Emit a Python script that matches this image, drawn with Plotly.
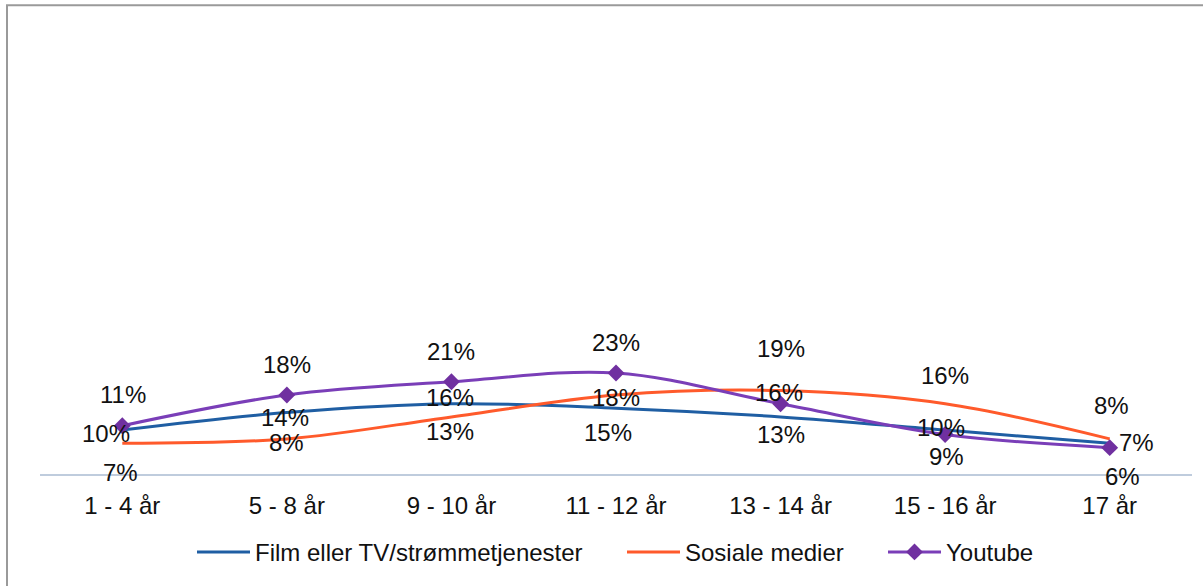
import plotly.graph_objects as go

categories = ["1 - 4 år", "5 - 8 år", "9 - 10 år", "11 - 12 år", "13 - 14 år", "15 - 16 år", "17 år"]
film = [0.10, 0.14, 0.16, 0.15, 0.13, 0.10, 0.07]
sosiale = [0.07, 0.08, 0.13, 0.18, 0.19, 0.16, 0.08]
youtube = [0.11, 0.18, 0.21, 0.23, 0.16, 0.09, 0.06]

series_names = ["Film eller TV/strømmetjenester", "Sosiale medier", "Youtube"]

# label offsets in pixels (dx right, dy down) - layout only
film_off = [(-16, 3), (-2, 5), (-1, -6), (-8, 24), (0, 18), (-4, -3), (27, -1)]
sos_off = [(-2, 29), (0, 4), (-1, 15), (0, 3), (0, -42), (0, -28), (2, -33)]
yt_off = [(1, -31), (0, -30), (0, -30), (0, -31), (-2, -11), (1, 22), (13, 29)]

FONT = "Liberation Sans, Arial, sans-serif"
FS = 24
C_FILM = "#1F5EA3"
C_SOS = "#FF5A2B"
C_YT = "#7A3EB8"

fig = go.Figure()
fig.add_trace(go.Scatter(x=categories, y=film, name=series_names[0], mode="lines", legend="legend",
                         line=dict(color=C_FILM, width=3, shape="spline", smoothing=1)))
fig.add_trace(go.Scatter(x=categories, y=sosiale, name=series_names[1], mode="lines", legend="legend2",
                         line=dict(color=C_SOS, width=3, shape="spline", smoothing=1)))
fig.add_trace(go.Scatter(x=categories, y=youtube, name=series_names[2], mode="lines+markers", legend="legend3",
                         line=dict(color=C_YT, width=3, shape="spline", smoothing=1),
                         marker=dict(symbol="diamond", size=13, color="#7030A0")))

for vals, offs in ((film, film_off), (sosiale, sos_off), (youtube, yt_off)):
    for c, v, (dx, dy) in zip(categories, vals, offs):
        fig.add_annotation(x=c, y=v, text=f"{round(v*100)}%", showarrow=False,
                           xshift=dx, yshift=-dy, xanchor="center", yanchor="middle",
                           font=dict(family=FONT, size=FS, color="#111111"))

L, R, T, B = 40, 11, 35, 108
W, H = 1203, 586
pw, ph = W - L - R, H - T - B

def px_x(p):
    return (p - L) / pw

def px_y(q):
    return (H - B - q) / ph

fig.add_shape(type="rect", xref="paper", yref="paper",
              x0=px_x(7), x1=px_x(1215), y0=px_y(600), y1=px_y(5),
              line=dict(color="#9A9A9A", width=2), fillcolor="rgba(0,0,0,0)", layer="below")

def leg(xpx):
    return dict(orientation="h", x=px_x(xpx), xanchor="left", y=px_y(557), yanchor="middle",
                font=dict(family=FONT, size=FS, color="#111111"), itemwidth=53,
                bgcolor="rgba(0,0,0,0)")

fig.update_layout(
    width=W, height=H,
    margin=dict(l=L, r=R, t=T, b=B),
    paper_bgcolor="white", plot_bgcolor="white",
    font=dict(family=FONT, size=FS, color="#111111"),
    showlegend=True,
    legend=leg(192), legend2=leg(622), legend3=leg(883),
    xaxis=dict(range=[-0.5, 6.5], showgrid=False, zeroline=False, showline=True,
               linecolor="#BFCCDD", linewidth=2, ticks="", ticklabelstandoff=9,
               tickfont=dict(family=FONT, size=FS, color="#111111")),
    yaxis=dict(range=[0, 1], showgrid=False, zeroline=False, showline=False,
               showticklabels=False, ticks=""),
)

fig.write_html("out.html", config={"displayModeBar": False},
               post_script=("document.body.style.margin='0';"
                            "document.documentElement.style.overflow='hidden';"
                            "document.body.style.overflow='hidden';"
                            "window.scrollTo(0,0);"))
